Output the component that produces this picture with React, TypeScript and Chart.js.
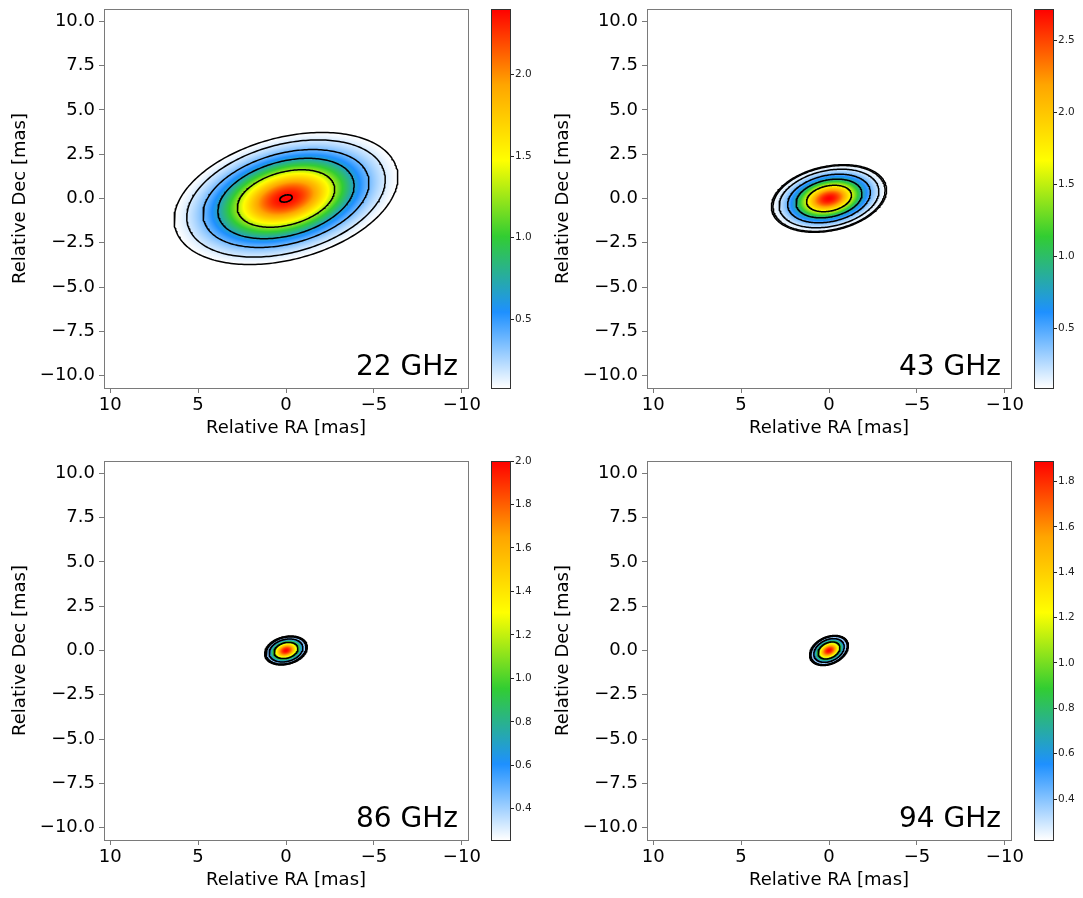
import React, { useEffect, useRef } from 'react';
import { Chart, registerables } from 'chart.js';

Chart.register(...registerables);
Chart.defaults.font.family = '"DejaVu Sans", sans-serif';
Chart.defaults.color = '#000';

// ---------------- data ----------------
const FREQ_LABELS = ['22 GHz', '43 GHz', '86 GHz', '94 GHz'];
// elliptical Gaussian brightness model of each map
const PEAK_FLUX = [2.4, 2.72, 2.0, 1.89];
const SIGMA_MAJOR = [2.5, 1.26, 0.61, 0.56];
const SIGMA_MINOR = [1.32, 0.69, 0.385, 0.37];
const TILT_DEG = [15, 12, 15, 25];
const CENTER_RA = [0, 0, 0, 0];
const CENTER_DEC = [0, 0, 0, 0];
// contour levels
const LEVELS_22 = [0.08, 0.165, 0.37, 0.68, 1.26, 2.375];
const LEVELS_43 = [0.084, 0.1, 0.2, 0.45, 0.87, 1.6];
const LEVELS_86 = [0.256, 0.29, 0.33, 0.55, 1.05];
const LEVELS_94 = [0.22, 0.25, 0.28, 0.5, 0.95];
const CONTOUR_LEVELS = [LEVELS_22, LEVELS_43, LEVELS_86, LEVELS_94];
// colour bars
const CBAR_MIN = [0.08, 0.084, 0.256, 0.22];
const CBAR_MAX = [2.4, 2.72, 2.0, 1.89];
const CBAR_TICKS_22 = [0.5, 1.0, 1.5, 2.0];
const CBAR_TICKS_43 = [0.5, 1.0, 1.5, 2.0, 2.5];
const CBAR_TICKS_86 = [0.4, 0.6, 0.8, 1.0, 1.2, 1.4, 1.6, 1.8, 2.0];
const CBAR_TICKS_94 = [0.4, 0.6, 0.8, 1.0, 1.2, 1.4, 1.6, 1.8];
const CBAR_TICKS = [CBAR_TICKS_22, CBAR_TICKS_43, CBAR_TICKS_86, CBAR_TICKS_94];
// axes
const RA_TICKS = [10, 5, 0, -5, -10];
const DEC_TICKS = [10, 7.5, 5, 2.5, 0, -2.5, -5, -7.5, -10];
const RA_LIMIT = 10.35;
const DEC_LIMIT = 10.7;
const X_TITLE = 'Relative RA [mas]';
const Y_TITLE = 'Relative Dec [mas]';
// colour map
const CMAP_POS = [0, 0.2, 0.4, 0.6, 0.8, 1];
const CMAP_RGB = [
  [255, 255, 255],
  [30, 144, 255],
  [50, 205, 50],
  [255, 255, 0],
  [255, 165, 0],
  [255, 0, 0],
];

// ---------------- layout ----------------
const PANEL_ORIGIN = [
  [0, 0],
  [543, 0],
  [0, 452],
  [543, 452],
];
const CBAR_ORIGIN = [
  [485, 0],
  [1028, 0],
  [485, 452],
  [1028, 452],
];
const PANEL_W = 488;
const PANEL_H = 450;
const CBAR_W = 55;
const CBAR_H = 450;
const AXIS_GRAY = '#7a7a7a';

function cmap(t: number): [number, number, number] {
  const x = Math.min(1, Math.max(0, t));
  for (let k = 1; k < CMAP_POS.length; k++) {
    if (x <= CMAP_POS[k]) {
      const f = (x - CMAP_POS[k - 1]) / (CMAP_POS[k] - CMAP_POS[k - 1]);
      const a = CMAP_RGB[k - 1];
      const b = CMAP_RGB[k];
      return [a[0] + (b[0] - a[0]) * f, a[1] + (b[1] - a[1]) * f, a[2] + (b[2] - a[2]) * f];
    }
  }
  const l = CMAP_RGB[CMAP_RGB.length - 1];
  return [l[0], l[1], l[2]];
}

function brightness(i: number, ra: number, dec: number): number {
  const phi = (TILT_DEG[i] * Math.PI) / 180;
  const u = -(ra - CENTER_RA[i]);
  const v = dec - CENTER_DEC[i];
  const p = u * Math.cos(phi) + v * Math.sin(phi);
  const q = -u * Math.sin(phi) + v * Math.cos(phi);
  const sa = SIGMA_MAJOR[i];
  const sb = SIGMA_MINOR[i];
  return PEAK_FLUX[i] * Math.exp(-0.5 * ((p * p) / (sa * sa) + (q * q) / (sb * sb)));
}

function contourPoints(i: number, level: number) {
  const rho = Math.sqrt(2 * Math.log(PEAK_FLUX[i] / level));
  const phi = (TILT_DEG[i] * Math.PI) / 180;
  const pts: { x: number; y: number }[] = [];
  const N = 240;
  for (let k = 0; k <= N; k++) {
    const t = (k / N) * 2 * Math.PI;
    const p = rho * SIGMA_MAJOR[i] * Math.cos(t);
    const q = rho * SIGMA_MINOR[i] * Math.sin(t);
    const u = p * Math.cos(phi) - q * Math.sin(phi);
    const v = p * Math.sin(phi) + q * Math.cos(phi);
    pts.push({ x: CENTER_RA[i] - u, y: CENTER_DEC[i] + v });
  }
  return pts;
}

const fmtSigned = (v: number, d: number) => (v < 0 ? '\u2212' : '') + Math.abs(v).toFixed(d);

function makePanel(canvas: HTMLCanvasElement, i: number) {
  const imagePlugin = {
    id: 'imageMap' + i,
    beforeDatasetsDraw(chart: any) {
      const { ctx, chartArea, scales } = chart;
      const { left, top, width, height } = chartArea;
      const w = Math.round(width);
      const h = Math.round(height);
      const off = document.createElement('canvas');
      off.width = w;
      off.height = h;
      const octx = off.getContext('2d')!;
      const img = octx.createImageData(w, h);
      const vmin = CBAR_MIN[i];
      const vmax = CBAR_MAX[i];
      const mask = CONTOUR_LEVELS[i][0];
      for (let r = 0; r < h; r++) {
        const dec = scales.y.getValueForPixel(top + r + 0.5);
        for (let c = 0; c < w; c++) {
          const ra = scales.x.getValueForPixel(left + c + 0.5);
          const f = brightness(i, ra, dec);
          const o = (r * w + c) * 4;
          if (f < mask) {
            img.data[o + 3] = 0;
            continue;
          }
          const col = cmap((f - vmin) / (vmax - vmin));
          img.data[o] = col[0];
          img.data[o + 1] = col[1];
          img.data[o + 2] = col[2];
          img.data[o + 3] = 255;
        }
      }
      octx.putImageData(img, 0, 0);
      ctx.save();
      ctx.drawImage(off, left, top, width, height);
      ctx.restore();
    },
    afterDatasetsDraw(chart: any) {
      const { ctx, chartArea } = chart;
      const { left, top, right, bottom } = chartArea;
      ctx.save();
      ctx.strokeStyle = AXIS_GRAY;
      ctx.lineWidth = 1;
      ctx.strokeRect(Math.round(left) + 0.5, Math.round(top) + 0.5, Math.round(right - left), Math.round(bottom - top));
      ctx.fillStyle = '#000';
      ctx.font = '28px "DejaVu Sans", sans-serif';
      ctx.textAlign = 'right';
      ctx.textBaseline = 'alphabetic';
      ctx.fillText(FREQ_LABELS[i], right - 10, bottom - 13);
      ctx.restore();
    },
  };

  return new Chart(canvas, {
    type: 'scatter',
    data: {
      datasets: CONTOUR_LEVELS[i].map((lv) => ({
        data: contourPoints(i, lv),
        showLine: true,
        borderColor: '#000',
        borderWidth: 1.5,
        pointRadius: 0,
        fill: false,
        tension: 0,
        borderJoinStyle: 'round',
      })),
    },
    options: {
      responsive: false,
      animation: false,
      events: [],
      layout: { padding: { left: 0, top: 9, right: 20, bottom: 0 } },
      plugins: { legend: { display: false }, tooltip: { enabled: false } },
      scales: {
        x: {
          type: 'linear',
          min: -RA_LIMIT,
          max: RA_LIMIT,
          reverse: true,
          afterBuildTicks: (s: any) => {
            s.ticks = RA_TICKS.map((v) => ({ value: v }));
          },
          afterFit: (s: any) => {
            s.height = 62;
            s.paddingLeft = 0;
            s.paddingRight = 0;
          },
          ticks: {
            autoSkip: false,
            maxRotation: 0,
            padding: 2,
            font: { size: 18 },
            color: '#000',
            callback: (v: any) => fmtSigned(Number(v), 0),
          },
          grid: { drawOnChartArea: false, drawTicks: true, tickLength: 5, tickColor: AXIS_GRAY },
          border: { display: false },
          title: { display: true, text: X_TITLE, font: { size: 18 }, color: '#000', padding: { top: 0, bottom: 11 } },
        },
        y: {
          type: 'linear',
          min: -DEC_LIMIT,
          max: DEC_LIMIT,
          afterBuildTicks: (s: any) => {
            s.ticks = DEC_TICKS.map((v) => ({ value: v }));
          },
          afterFit: (s: any) => {
            s.width = 104;
            s.paddingTop = 0;
            s.paddingBottom = 0;
          },
          ticks: {
            autoSkip: false,
            padding: 4,
            font: { size: 18 },
            color: '#000',
            callback: (v: any) => fmtSigned(Number(v), 1),
          },
          grid: { drawOnChartArea: false, drawTicks: true, tickLength: 5, tickColor: AXIS_GRAY },
          border: { display: false },
          title: { display: true, text: Y_TITLE, font: { size: 18 }, color: '#000', padding: { top: 10, bottom: 0 } },
        },
      },
    } as any,
    plugins: [imagePlugin],
  });
}

function makeColorbar(canvas: HTMLCanvasElement, i: number) {
  const outline = {
    id: 'cbOutline' + i,
    afterDraw(chart: any) {
      const { ctx, chartArea } = chart;
      const { left, top, right, bottom } = chartArea;
      ctx.save();
      ctx.strokeStyle = '#333';
      ctx.lineWidth = 1;
      ctx.strokeRect(Math.round(left) + 0.5, Math.round(top) + 0.5, Math.round(right - left), Math.round(bottom - top));
      ctx.restore();
    },
  };
  return new Chart(canvas, {
    type: 'bar',
    data: {
      labels: [''],
      datasets: [
        {
          data: [[CBAR_MIN[i], CBAR_MAX[i]]],
          backgroundColor: (c: any) => {
            const ch = c.chart;
            const ca = ch.chartArea;
            if (!ca) return 'rgba(0,0,0,0)';
            const g = ch.ctx.createLinearGradient(0, ca.bottom, 0, ca.top);
            CMAP_POS.forEach((p, k) => {
              const rgb = CMAP_RGB[k];
              g.addColorStop(p, `rgb(${rgb[0]},${rgb[1]},${rgb[2]})`);
            });
            return g;
          },
          borderWidth: 0,
          barPercentage: 1,
          categoryPercentage: 1,
          inflateAmount: 0,
        },
      ],
    },
    options: {
      responsive: false,
      animation: false,
      events: [],
      layout: { padding: { left: 6, top: 9, right: 0, bottom: 62 } },
      plugins: { legend: { display: false }, tooltip: { enabled: false } },
      scales: {
        x: { display: false },
        y: {
          type: 'linear',
          position: 'right',
          min: CBAR_MIN[i],
          max: CBAR_MAX[i],
          afterBuildTicks: (s: any) => {
            s.ticks = CBAR_TICKS[i].map((v) => ({ value: v }));
          },
          afterFit: (s: any) => {
            s.width = 30;
            s.paddingTop = 0;
            s.paddingBottom = 0;
          },
          ticks: {
            autoSkip: false,
            padding: 1,
            font: { size: 10.5 },
            color: '#222',
            callback: (v: any) => Number(v).toFixed(1),
          },
          grid: { drawOnChartArea: false, drawTicks: true, tickLength: 4, tickColor: '#222' },
          border: { display: false },
        },
      },
    } as any,
    plugins: [outline],
  });
}

export default function App() {
  const panelRefs = useRef<(HTMLCanvasElement | null)[]>([]);
  const cbRefs = useRef<(HTMLCanvasElement | null)[]>([]);

  useEffect(() => {
    const charts: Chart[] = [];
    for (let i = 0; i < 4; i++) {
      const p = panelRefs.current[i];
      const c = cbRefs.current[i];
      if (p) charts.push(makePanel(p, i));
      if (c) charts.push(makeColorbar(c, i));
    }
    return () => {
      charts.forEach((ch) => ch.destroy());
    };
  }, []);

  return (
    <div
      style={{
        position: 'absolute',
        left: 0,
        top: 0,
        width: 1083,
        height: 898,
        overflow: 'hidden',
        background: '#fff',
      }}
    >
      {PANEL_ORIGIN.map(([x, y], i) => (
        <canvas
          key={'p' + i}
          ref={(el) => {
            panelRefs.current[i] = el;
          }}
          width={PANEL_W}
          height={PANEL_H}
          style={{ position: 'absolute', left: x, top: y, width: PANEL_W, height: PANEL_H }}
        />
      ))}
      {CBAR_ORIGIN.map(([x, y], i) => (
        <canvas
          key={'c' + i}
          ref={(el) => {
            cbRefs.current[i] = el;
          }}
          width={CBAR_W}
          height={CBAR_H}
          style={{ position: 'absolute', left: x, top: y, width: CBAR_W, height: CBAR_H }}
        />
      ))}
    </div>
  );
}
